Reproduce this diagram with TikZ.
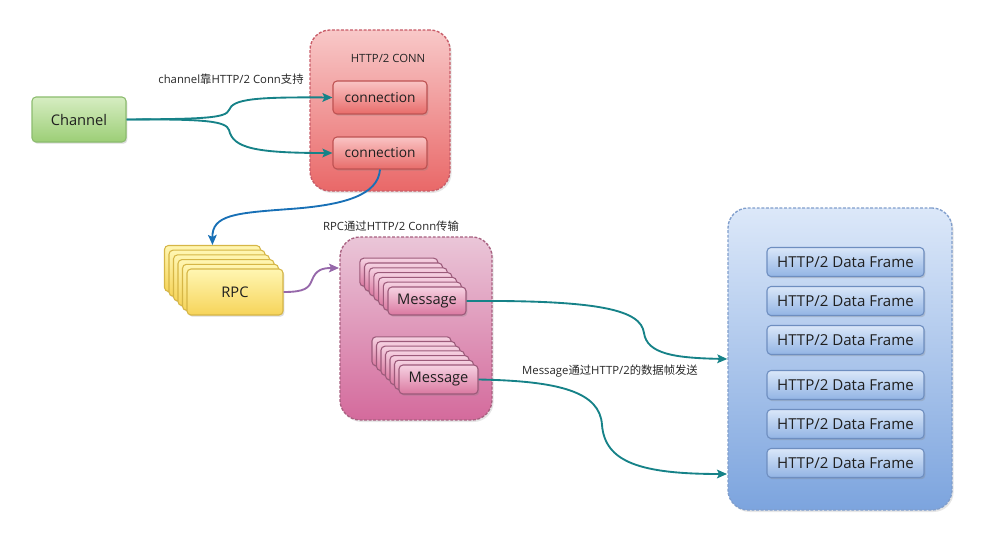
\documentclass[tikz,border=0pt]{standalone}
\usepackage{fontspec}
\setmainfont{Open Sans}
\newfontfamily\cjk{Noto Sans CJK SC}
\usetikzlibrary{arrows.meta,shadows}

% palette
\definecolor{arrowteal}{RGB}{22,130,136}
\definecolor{arrowblue}{RGB}{24,112,182}
\definecolor{arrowpurple}{RGB}{150,104,170}

\begin{document}
\begin{tikzpicture}[x=0.75pt,y=-0.75pt,
  every node/.style={font=\fontsize{10.3}{12}\selectfont, text=black!88},
  big/.style={font=\fontsize{11}{13}\selectfont},
  framefont/.style={font=\fontsize{11.3}{13}\selectfont},
  lbl/.style={font=\fontsize{8.5}{10}\selectfont, text=black!85},
  box/.style={draw, line width=0.8pt, rounded corners=3pt, inner sep=0pt,
    drop shadow={opacity=0.28, shadow xshift=1pt, shadow yshift=-1.3pt}},
  group/.style={draw, line width=1pt, dash pattern=on 2.2pt off 1.2pt,
    rounded corners=15pt, inner sep=0pt,
    drop shadow={opacity=0.2, shadow xshift=1.2pt, shadow yshift=-1.5pt}},
  greenbox/.style={box, draw={rgb,255:red,140;green,188;blue,110},
    top color={rgb,255:red,214;green,237;blue,194},
    bottom color={rgb,255:red,156;green,206;blue,118}},
  redbox/.style={box, draw={rgb,255:red,190;green,82;blue,82},
    top color={rgb,255:red,250;green,196;blue,196},
    bottom color={rgb,255:red,232;green,108;blue,106}},
  yellowbox/.style={box, draw={rgb,255:red,214;green,182;blue,70},
    top color={rgb,255:red,255;green,246;blue,178},
    bottom color={rgb,255:red,246;green,212;blue,90}},
  pinkbox/.style={box, draw={rgb,255:red,156;green,90;blue,122},
    top color={rgb,255:red,246;green,210;blue,226},
    bottom color={rgb,255:red,218;green,120;blue,160}},
  bluebox/.style={box, draw={rgb,255:red,110;green,142;blue,192},
    top color={rgb,255:red,218;green,231;blue,249},
    bottom color={rgb,255:red,146;green,180;blue,228}},
  redgroup/.style={group, draw={rgb,255:red,200;green,92;blue,104},
    top color={rgb,255:red,248;green,200;blue,200},
    bottom color={rgb,255:red,233;green,104;blue,104}},
  pinkgroup/.style={group, draw={rgb,255:red,168;green,96;blue,128},
    top color={rgb,255:red,234;green,198;blue,216},
    bottom color={rgb,255:red,212;green,106;blue,156}},
  bluegroup/.style={group, draw={rgb,255:red,128;green,158;blue,204},
    top color={rgb,255:red,220;green,232;blue,249},
    bottom color={rgb,255:red,124;green,164;blue,222}},
  flow/.style={line width=1.4pt, -{Stealth[length=7.5pt,width=6.5pt,inset=1.5pt]}},
]
\useasboundingbox (0,0) rectangle (1000,542);

% ---- containers ----
\node[redgroup, minimum width=105pt, minimum height=120.75pt] (conngroup) at (380,110.5) {};
\node[pinkgroup, minimum width=114pt, minimum height=137.25pt] (rpcgroup) at (416,328.5) {};
\node[bluegroup, minimum width=168pt, minimum height=226.5pt] (framegroup) at (840,359) {};

\node[lbl] (conntitle) at (388,58) {HTTP/2 CONN};

% ---- channel and connections ----
\node[greenbox, big, minimum width=70.5pt, minimum height=33.75pt] (channel) at (79,119.5) {Channel};
\node[redbox, minimum width=70.5pt, minimum height=24.75pt] (conn1) at (380,97.5) {connection};
\node[redbox, minimum width=70.5pt, minimum height=24pt] (conn2) at (380,153) {connection};

% ---- RPC stack ----
\foreach \k in {5,4,3,2,1}
  \node[yellowbox, minimum width=72pt, minimum height=34.5pt] (rpc\k) at ({235-4.5*\k},{292-4.7*\k}) {};
\node[yellowbox, big, minimum width=72pt, minimum height=34.5pt] (rpc) at (235,292) {RPC};

% ---- message stacks ----
\foreach \k in {6,5,4,3,2,1}
  \node[pinkbox, minimum width=58.5pt, minimum height=21pt] (msgA\k) at ({427-4.7*\k},{301-4.8*\k}) {};
\node[pinkbox, big, minimum width=58.5pt, minimum height=21pt] (msgA) at (427,301) {Message};

\foreach \k in {6,5,4,3,2,1}
  \node[pinkbox, minimum width=59.25pt, minimum height=21.75pt] (msgB\k) at ({438.5-4.5*\k},{379.5-4.7*\k}) {};
\node[pinkbox, big, minimum width=59.25pt, minimum height=21.75pt] (msgB) at (438.5,379.5) {Message};

% ---- data frames ----
\foreach \y/\n in {262/1,301/2,340/3,385/4,424/5,463/6}
  \node[bluebox, framefont, minimum width=117.75pt, minimum height=21.75pt] (frame\n) at (845.5,\y) {HTTP/2 Data Frame};

% ---- labels ----
\node[lbl] (chanlabel) at (231,79) {channel{\cjk 靠}HTTP/2 Conn{\cjk 支持}};
\node[lbl] (rpclabel) at (391,226) {RPC{\cjk 通过}HTTP/2 Conn{\cjk 传输}};
\node[lbl] (msglabel) at (610,371) {Message{\cjk 通过}HTTP/2{\cjk 的数据帧发送}};

% ---- connector end points ----
\coordinate (rpcin) at (339,268);
\coordinate (framein2) at (727,474);

% ---- connectors ----
\draw[flow, arrowteal] (channel.east) .. controls (205,119) and (226,118) .. (229,110)
  .. controls (233,99) and (255,97) .. (conn1.west);
\draw[flow, arrowteal] (channel.east) .. controls (205,119) and (226,121) .. (229,130)
  .. controls (233,148) and (255,153) .. (conn2.west);
\draw[flow, arrowblue] (conn2.south) .. controls (378,195) and (345,205) .. (290,209)
  .. controls (235,213) and (212,215) .. (rpc5.north);
\draw[flow, arrowpurple] (rpc.east) .. controls (305,292) and (309,288) .. (312,280)
  .. controls (316,270) and (322,268) .. (rpcin);
\draw[flow, arrowteal] (msgA.east) .. controls (600,300) and (641,310) .. (644,333)
  .. controls (647,354) and (675,358) .. (framegroup.west);
\draw[flow, arrowteal] (msgB.east) .. controls (560,381) and (600,392) .. (602,425)
  .. controls (605,462) and (640,474) .. (framein2);
\end{tikzpicture}
\end{document}
